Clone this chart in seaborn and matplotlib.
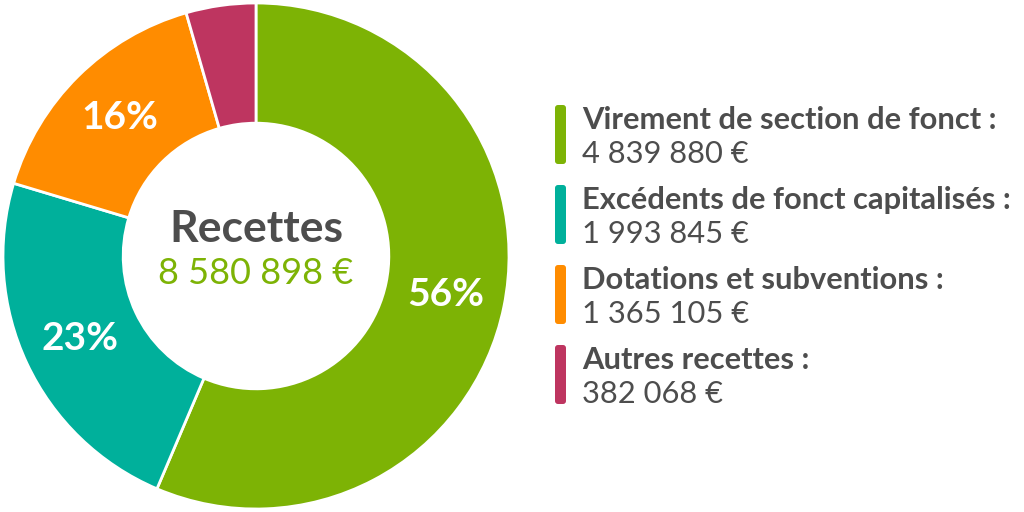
import matplotlib
matplotlib.use("Agg")
import matplotlib.pyplot as plt
from matplotlib.patches import FancyBboxPatch
import seaborn as sns

categories = ["Virement de section de fonct", "Excédents de fonct capitalisés",
              "Dotations et subventions", "Autres recettes"]
values = [4839880, 1993845, 1365105, 382068]
colors = ["#7db305", "#00b09b", "#ff8c00", "#be3560"]
center_title = "Recettes"

sns.set_theme(style="white")
plt.rcParams['font.family'] = ['Lato', 'DejaVu Sans']

TXT = "#4d4d4d"
W, H = 1024, 512
fig = plt.figure(figsize=(W / 100, H / 100), dpi=100)
fig.patch.set_facecolor("white")

def fmt(v):
    return f"{v:,}".replace(",", " ") + " €"

# Donut
ax = fig.add_axes([3 / W, 3 / H, 506 / W, 506 / H])
total = sum(values)
def pct(p):
    return f"{p:.0f}%" if p >= 5 else ""
wedges, texts, autotexts = ax.pie(
    values, colors=colors, startangle=90, counterclock=False, radius=1.0,
    wedgeprops=dict(width=0.475, edgecolor="white", linewidth=2),
    autopct=pct, pctdistance=0.767,
    textprops=dict(color="white", fontsize=28, fontweight="bold"))
ax.set_aspect("equal")
ax.set_xlim(-1.0, 1.0)
ax.set_ylim(-1.0, 1.0)
ax.axis("off")
ax.text(0, 0.105, center_title, ha="center", va="center", fontsize=32,
        fontweight="bold", color=TXT)
ax.text(0, -0.07, fmt(total), ha="center", va="center", fontsize=26,
        color=colors[0])

# Legend (overlay axes in pixel coordinates)
lax = fig.add_axes([0, 0, 1, 1])
lax.set_xlim(0, W)
lax.set_ylim(H, 0)
lax.axis("off")
y0 = 105
step = 80
for i, (c, v, col) in enumerate(zip(categories, values, colors)):
    top = y0 + i * step
    lax.add_patch(FancyBboxPatch((555, top), 11, 59,
                                 boxstyle="round,pad=0,rounding_size=3",
                                 facecolor=col, edgecolor="none"))
    lax.text(582, top + 24, c + " :", ha="left", va="baseline", fontsize=22.2,
             fontweight="bold", color=TXT)
    lax.text(582, top + 58, fmt(v), ha="left", va="baseline", fontsize=22.2,
             color=TXT)

fig.savefig("out.png", dpi=100, facecolor="white")
